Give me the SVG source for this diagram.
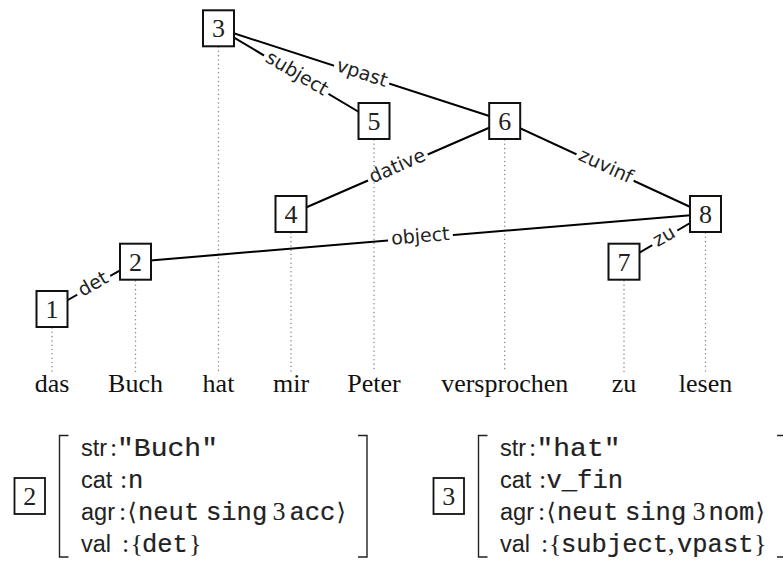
<svg xmlns="http://www.w3.org/2000/svg" width="783" height="561" viewBox="0 0 783 561">
<style>
.box{fill:#fff;stroke:#111;stroke-width:2}
.num{font-family:"Liberation Serif",serif;font-size:26px;fill:#222;text-anchor:middle}
.word{font-family:"Liberation Serif",serif;font-size:26px;fill:#111;text-anchor:middle}
.edge{stroke:#000;stroke-width:2;fill:none}
.dot{stroke:#888;stroke-width:1.5;stroke-linecap:round;stroke-dasharray:0.01 4.3;fill:none}
.lab{font-family:"DejaVu Sans",sans-serif;font-size:19px;fill:#222;text-anchor:middle}
.bg{fill:#fff}
.brk{stroke:#222;stroke-width:1.4;fill:none}
.sf{font-family:"Liberation Sans",sans-serif;font-size:23.5px;fill:#222}
.rm{font-family:"Liberation Serif",serif;font-size:26px;fill:#222}
.tt{font-family:"Liberation Mono",monospace;font-size:25.5px;fill:#222;stroke:#222;stroke-width:0.2}
.ang{font-family:"DejaVu Serif",serif;font-size:24px;fill:#222}
</style>

<g id="dotted">
<path class="dot" d="M52,328V372M135.5,281V372M218.5,47V372M291,233V372M374,140V372M504.7,140V372M624,281V372M705.5,233V372"/>
</g>

<g id="connectors">
<line class="edge" x1="218.5" y1="28.3" x2="504.7" y2="121"/>
<line class="edge" x1="218.5" y1="28.3" x2="374" y2="121"/>
<line class="edge" x1="504.7" y1="121" x2="291" y2="214"/>
<line class="edge" x1="504.7" y1="121" x2="705.5" y2="214"/>
<line class="edge" x1="705.5" y1="214" x2="135.5" y2="261.7"/>
<line class="edge" x1="705.5" y1="214" x2="624" y2="261.7"/>
<line class="edge" x1="135.5" y1="261.7" x2="52" y2="309"/>
<g transform="translate(361.6,74.65) rotate(17.95)"><rect class="bg" x="-29" y="-4" width="58" height="8"/><text class="lab" y="4.5">vpast</text></g>
<g transform="translate(296.25,74.65) rotate(30.8)"><rect class="bg" x="-37.5" y="-4" width="75" height="8"/><text class="lab" y="4.5">subject</text></g>
<g transform="translate(397.85,167.5) rotate(-23.52)"><rect class="bg" x="-32.5" y="-4" width="65" height="8"/><text class="lab" y="4.5">dative</text></g>
<g transform="translate(605.1,167.5) rotate(24.85)"><rect class="bg" x="-31.5" y="-4" width="63" height="8"/><text class="lab" y="4.5">zuvinf</text></g>
<g transform="translate(420.5,237.85) rotate(-4.78)"><rect class="bg" x="-32.5" y="-4" width="65" height="8"/><text class="lab" y="4.5">object</text></g>
<g transform="translate(664.75,237.85) rotate(-30.33)"><rect class="bg" x="-14.5" y="-4" width="29" height="8"/><text class="lab" y="4.5">zu</text></g>
<g transform="translate(93.75,285.35) rotate(-29.53)"><rect class="bg" x="-19" y="-4" width="38" height="8"/><text class="lab" y="4.5">det</text></g>
</g>

<g id="n1"><rect class="box" x="36.5" y="291" width="31" height="36"/><text class="num" x="52" y="318">1</text></g>
<g id="n2"><rect class="box" x="120" y="243.7" width="31" height="36"/><text class="num" x="135.5" y="270.7">2</text></g>
<g id="n3"><rect class="box" x="203" y="10.3" width="31" height="36"/><text class="num" x="218.5" y="37.3">3</text></g>
<g id="n4"><rect class="box" x="275.5" y="196" width="31" height="36"/><text class="num" x="291" y="223">4</text></g>
<g id="n5"><rect class="box" x="358.5" y="103" width="31" height="36"/><text class="num" x="374" y="130">5</text></g>
<g id="n6"><rect class="box" x="489.2" y="103" width="31" height="36"/><text class="num" x="504.7" y="130">6</text></g>
<g id="n7"><rect class="box" x="608.5" y="243.7" width="31" height="36"/><text class="num" x="624" y="270.7">7</text></g>
<g id="n8"><rect class="box" x="690" y="196" width="31" height="36"/><text class="num" x="705.5" y="223">8</text></g>

<g id="words">
<text class="word" x="52" y="392">das</text>
<text class="word" x="135.5" y="392">Buch</text>
<text class="word" x="218.5" y="392">hat</text>
<text class="word" x="291" y="392">mir</text>
<text class="word" x="374" y="392">Peter</text>
<text class="word" x="504.7" y="392">versprochen</text>
<text class="word" x="624" y="392">zu</text>
<text class="word" x="705.5" y="392">lesen</text>
</g>

<g id="avm2">
<rect class="box" x="14.5" y="478" width="30.5" height="36" style="stroke-width:1.8"/>
<text class="num" x="29.7" y="505">2</text>
<path class="brk" d="M68.5,435.5H59.5V557H68.5M358,435.5H367V557H358"/>
<text class="sf" x="81" y="456">str</text>
<text class="rm" x="110" y="456">:</text>
<text class="tt" x="117" y="456" textLength="101" lengthAdjust="spacingAndGlyphs">"Buch"</text>
<text class="sf" x="81" y="488">cat</text>
<text class="rm" x="120" y="488">:</text>
<text class="tt" x="128" y="488">n</text>
<text class="sf" x="81" y="520">agr</text>
<text class="rm" x="119" y="520">:</text>
<text class="ang" x="127.5" y="520">⟨</text>
<text class="tt" x="138" y="520">neut</text>
<text class="tt" x="206" y="520">sing</text>
<text class="rm" x="272.5" y="520">3</text>
<text class="tt" x="289.5" y="520">acc</text>
<text class="ang" x="336.5" y="520">⟩</text>
<text class="sf" x="81" y="552">val</text>
<text class="rm" x="122" y="552">:</text>
<text class="rm" x="130.5" y="552">{</text>
<text class="tt" x="142" y="552">det</text>
<text class="rm" x="189" y="552">}</text>
</g>

<g id="avm3">
<rect class="box" x="433.5" y="478" width="30.5" height="36" style="stroke-width:1.8"/>
<text class="num" x="448.7" y="505">3</text>
<path class="brk" d="M487.5,435.5H478.5V557H487.5M777,435.5H784V557H777"/>
<text class="sf" x="500" y="456">str</text>
<text class="rm" x="529" y="456">:</text>
<text class="tt" x="536.5" y="456" textLength="84" lengthAdjust="spacingAndGlyphs">"hat"</text>
<text class="sf" x="500" y="488">cat</text>
<text class="rm" x="539" y="488">:</text>
<text class="tt" x="546.5" y="488">v_fin</text>
<text class="sf" x="500" y="520">agr</text>
<text class="rm" x="538" y="520">:</text>
<text class="ang" x="546.5" y="520">⟨</text>
<text class="tt" x="557" y="520">neut</text>
<text class="tt" x="625" y="520">sing</text>
<text class="rm" x="692.5" y="520">3</text>
<text class="tt" x="708.5" y="520">nom</text>
<text class="ang" x="755.5" y="520">⟩</text>
<text class="sf" x="500" y="552">val</text>
<text class="rm" x="541" y="552">:</text>
<text class="rm" x="549" y="552">{</text>
<text class="tt" x="561" y="552">subject</text>
<text class="rm" x="668" y="552">,</text>
<text class="tt" x="677" y="552">vpast</text>
<text class="rm" x="754" y="552">}</text>
</g>
</svg>
